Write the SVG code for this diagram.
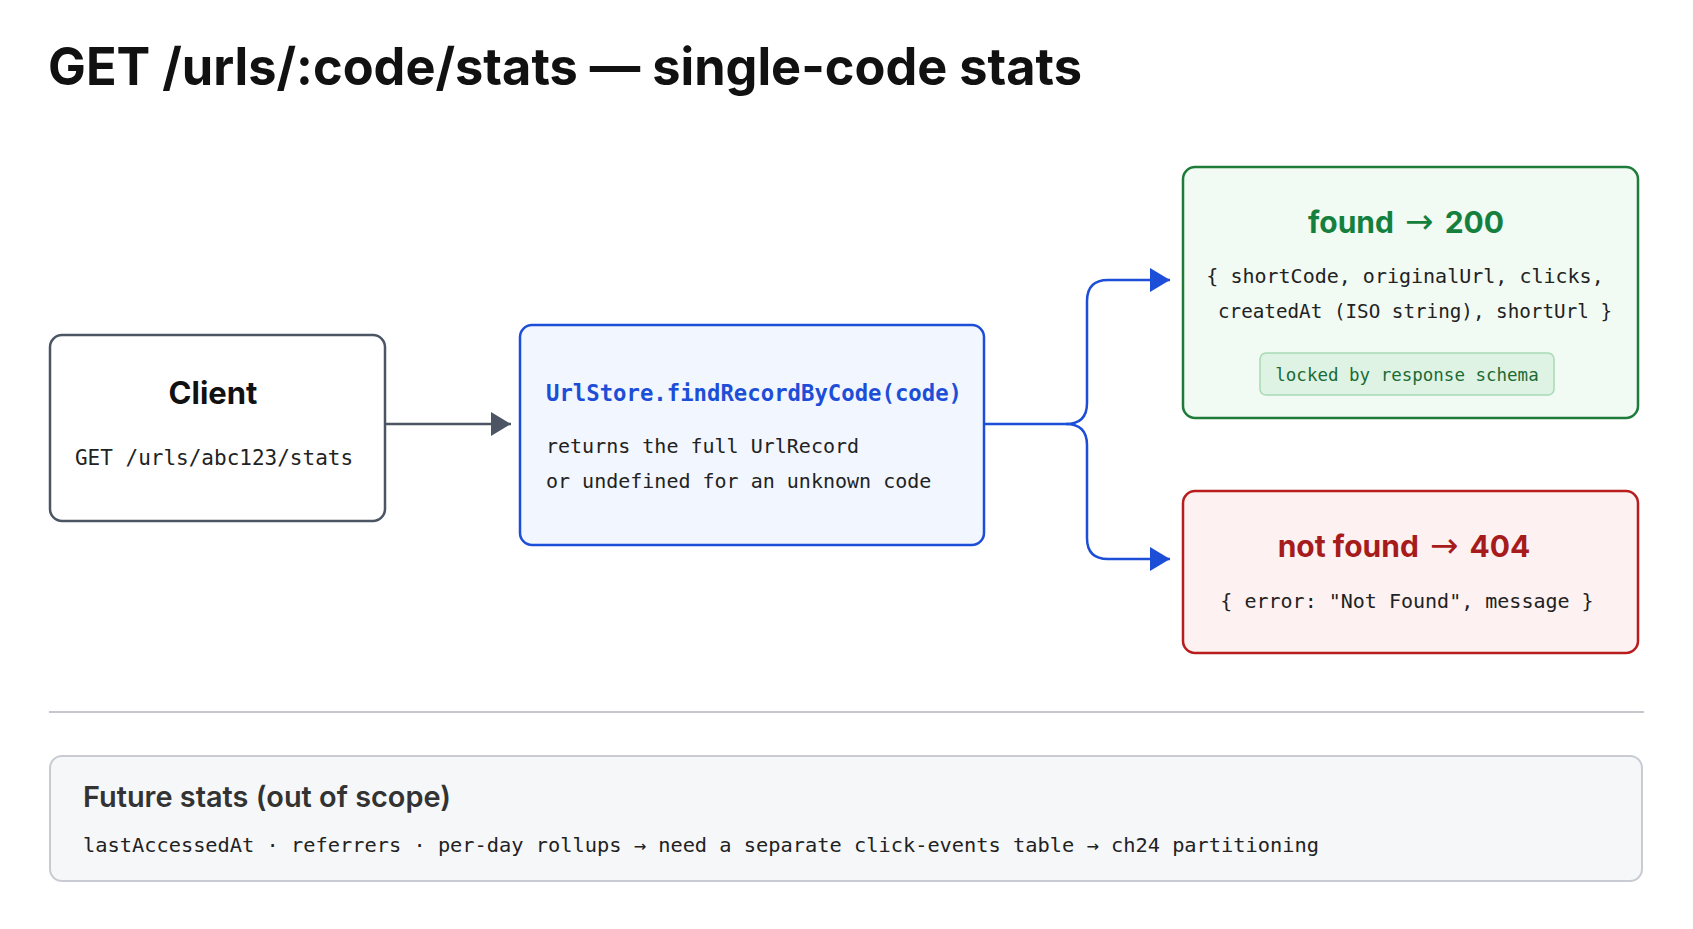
<svg xmlns="http://www.w3.org/2000/svg" width="1693" height="929" viewBox="0 0 1693 929">
<defs>
<style>
.sans{font-family:Inter,"Liberation Sans",Arial,sans-serif;font-weight:700}
.mono{font-family:"DejaVu Sans Mono","Liberation Mono",monospace;font-size:20px;fill:#222}
.arw{font-family:"DejaVu Sans","Liberation Sans",sans-serif;font-weight:400;font-size:34px}
.box{stroke-width:2.5}
.conn{fill:none;stroke-width:2.5}
</style>
<marker id="ahGray" viewBox="0 0 20 24" refX="20" refY="12" markerWidth="20" markerHeight="24" markerUnits="userSpaceOnUse" orient="auto">
<path d="M0 0 L20 12 L0 24 Z" fill="#4b5563"/>
</marker>
<marker id="ahBlue" viewBox="0 0 20 24" refX="20" refY="12" markerWidth="20" markerHeight="24" markerUnits="userSpaceOnUse" orient="auto">
<path d="M0 0 L20 12 L0 24 Z" fill="#1d4ed8"/>
</marker>
</defs>
<rect width="1693" height="929" fill="#ffffff"/>
<text class="sans" x="48" y="85" font-size="52" fill="#111111" textLength="1034" lengthAdjust="spacingAndGlyphs">GET /urls/:code/stats — single-code stats</text>

<g id="connectors">
<path class="conn" stroke="#4b5563" d="M386 424 H511" marker-end="url(#ahGray)"/>
<path class="conn" stroke="#1d4ed8" d="M984 424 H1066 Q1087 424 1087 403 V301 Q1087 280 1108 280 H1170" marker-end="url(#ahBlue)"/>
<path class="conn" stroke="#1d4ed8" d="M1066 424 Q1087 424 1087 445 V538 Q1087 559 1108 559 H1170" marker-end="url(#ahBlue)"/>
</g>

<g id="client">
<rect class="box" x="50" y="335" width="335" height="186" rx="12" fill="#ffffff" stroke="#4b5563"/>
<text class="sans" x="213" y="404" font-size="31" fill="#111111" text-anchor="middle">Client</text>
<text class="mono" x="214" y="465" text-anchor="middle" style="font-size:21px">GET /urls/abc123/stats</text>
</g>

<g id="urlstore">
<rect class="box" x="520" y="325" width="464" height="220" rx="12" fill="#f2f6fe" stroke="#1d4ed8"/>
<text x="546" y="401" style="font-family:'DejaVu Sans Mono','Liberation Mono',monospace;font-weight:700;font-size:23px" fill="#1d4ed8" textLength="416" lengthAdjust="spacingAndGlyphs">UrlStore.findRecordByCode(code)</text>
<text class="mono" x="546" y="453">returns the full UrlRecord</text>
<text class="mono" x="546" y="488">or undefined for an unknown code</text>
</g>

<g id="found">
<rect class="box" x="1183" y="167" width="455" height="251" rx="12" fill="#f1faf3" stroke="#1e7b3a"/>
<text class="sans" x="1406" y="233" font-size="30" fill="#15803d" text-anchor="middle">found <tspan class="arw" dx="4">→</tspan> <tspan dx="4">200</tspan></text>
<text class="mono" x="1405" y="283" text-anchor="middle">{ shortCode, originalUrl, clicks,</text>
<text class="mono" x="1415" y="318" text-anchor="middle" textLength="394" lengthAdjust="spacingAndGlyphs">createdAt (ISO string), shortUrl }</text>
<rect x="1260" y="353" width="294" height="42" rx="6" fill="#dff3e4" stroke="#a9d9b5" stroke-width="1.5"/>
<text x="1407" y="381" text-anchor="middle" style="font-family:'DejaVu Sans Mono','Liberation Mono',monospace;font-size:17.5px" fill="#1b6b34">locked by response schema</text>
</g>

<g id="notfound">
<rect class="box" x="1183" y="491" width="455" height="162" rx="12" fill="#fdf1f1" stroke="#b91c1c"/>
<text class="sans" x="1404" y="557" font-size="30" fill="#a61b1b" text-anchor="middle">not found <tspan class="arw" dx="4">→</tspan> <tspan dx="4">404</tspan></text>
<text class="mono" x="1407" y="608" text-anchor="middle">{ error: "Not Found", message }</text>
</g>

<line x1="49" y1="712" x2="1644" y2="712" stroke="#c4c7cc" stroke-width="2"/>

<g id="future">
<rect x="50" y="756" width="1592" height="125" rx="12" fill="#f6f7f9" stroke="#c8ccd2" stroke-width="2"/>
<text class="sans" x="83" y="807" font-size="29" fill="#333333" style="font-weight:600" textLength="368" lengthAdjust="spacingAndGlyphs">Future stats (out of scope)</text>
<text class="mono" x="83" y="852" fill="#444444" textLength="1236" lengthAdjust="spacingAndGlyphs">lastAccessedAt · referrers · per-day rollups → need a separate click-events table → ch24 partitioning</text>
</g>
</svg>
